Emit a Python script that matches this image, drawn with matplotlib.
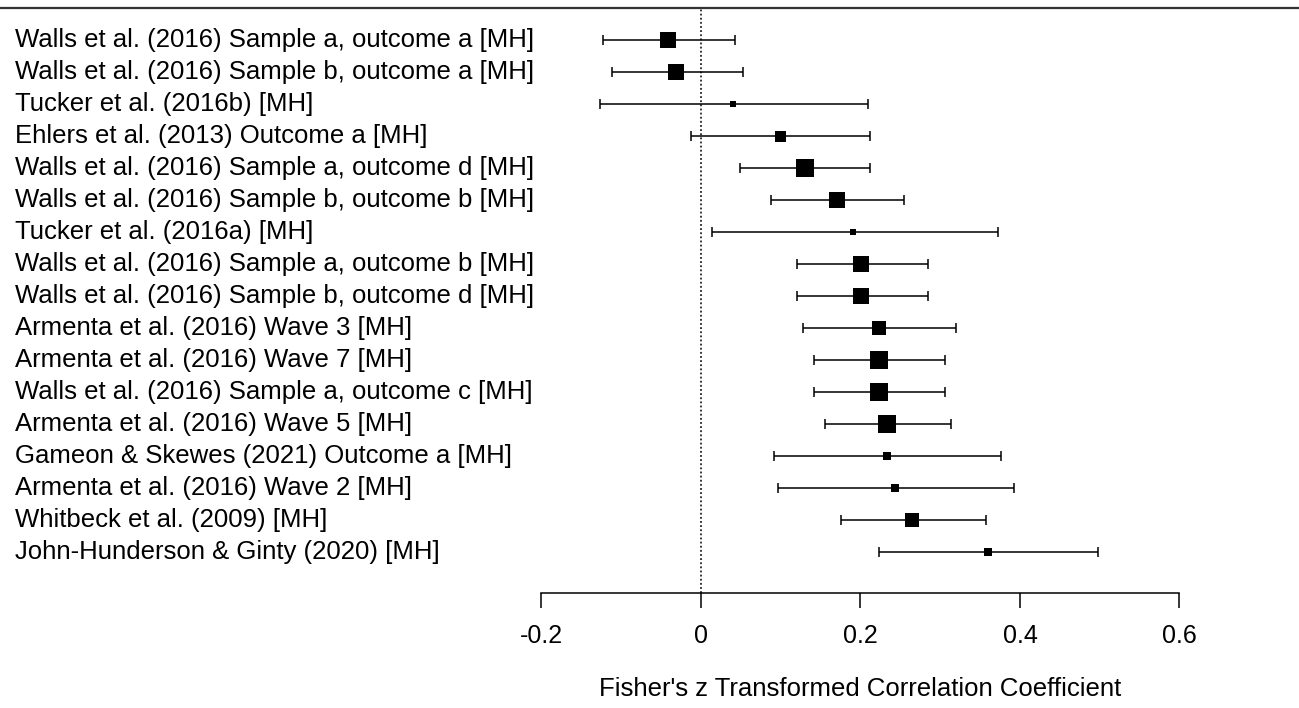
import matplotlib
matplotlib.use("Agg")
import matplotlib.pyplot as plt
import numpy as np

plt.rcParams['font.family'] = ['Liberation Sans', 'DejaVu Sans']

studies = [
    "Walls et al. (2016) Sample a, outcome a [MH]",
    "Walls et al. (2016) Sample b, outcome a [MH]",
    "Tucker et al. (2016b) [MH]",
    "Ehlers et al. (2013) Outcome a [MH]",
    "Walls et al. (2016) Sample a, outcome d [MH]",
    "Walls et al. (2016) Sample b, outcome b [MH]",
    "Tucker et al. (2016a) [MH]",
    "Walls et al. (2016) Sample a, outcome b [MH]",
    "Walls et al. (2016) Sample b, outcome d [MH]",
    "Armenta et al. (2016) Wave 3 [MH]",
    "Armenta et al. (2016) Wave 7 [MH]",
    "Walls et al. (2016) Sample a, outcome c [MH]",
    "Armenta et al. (2016) Wave 5 [MH]",
    "Gameon & Skewes (2021) Outcome a [MH]",
    "Armenta et al. (2016) Wave 2 [MH]",
    "Whitbeck et al. (2009) [MH]",
    "John-Hunderson & Ginty (2020) [MH]",
]
estimate = [-0.041, -0.031, 0.040, 0.099, 0.130, 0.170, 0.191, 0.201, 0.201,
            0.223, 0.223, 0.223, 0.233, 0.233, 0.243, 0.264, 0.360]
ci_lower = [-0.123, -0.112, -0.127, -0.013, 0.049, 0.088, 0.014, 0.120, 0.120,
            0.128, 0.142, 0.142, 0.155, 0.092, 0.097, 0.175, 0.223]
ci_upper = [0.043, 0.053, 0.209, 0.212, 0.212, 0.254, 0.372, 0.285, 0.285,
            0.320, 0.306, 0.306, 0.314, 0.376, 0.392, 0.357, 0.498]
weight = [16.0, 16.3, 6.3, 11.0, 17.7, 16.0, 6.3, 16.0, 16.0,
          14.3, 18.0, 18.0, 18.0, 8.3, 8.3, 14.7, 8.0]
xticks = [-0.2, 0, 0.2, 0.4, 0.6]
xtick_labels = ["-0.2", "0", "0.2", "0.4", "0.6"]
xlabel = "Fisher's z Transformed Correlation Coefficient"

W, H = 1299, 708
fig = plt.figure(figsize=(W / 100, H / 100), dpi=100)

# pixel geometry
x0_px, ppu = 701.0, 797.5
top_px, axis_px = 8.0, 593.0
row0_px, row_step = 40.0, 32.0

xl = ((0 - x0_px) / ppu, (W - x0_px) / ppu)
n = len(studies)
ypos = np.arange(n, 0, -1)  # top row = n
ytop = n + (row0_px - top_px) / row_step
ybot = 1 - (axis_px - (row0_px + (n - 1) * row_step)) / row_step

ax = fig.add_axes([0, (H - axis_px) / H, 1, (axis_px - top_px) / H])
ax.set_xlim(*xl)
ax.set_ylim(ybot, ytop)

for s in ['left', 'right']:
    ax.spines[s].set_visible(False)
ax.spines['top'].set_linewidth(1.6)
ax.spines['top'].set_color('#333333')
ax.spines['bottom'].set_bounds(-0.2, 0.6)
ax.spines['bottom'].set_linewidth(1.1)
ax.set_yticks([])
ax.set_xticks(xticks)
ax.set_xticklabels(xtick_labels, fontsize=18)
ax.tick_params(axis='x', length=11, width=1.1, pad=11, color='black')

ax.axvline(0, color='black', linestyle=(0, (1.2, 1.5)), linewidth=1.1, zorder=1)

est = np.array(estimate)
lo = np.array(ci_lower)
hi = np.array(ci_upper)
ax.errorbar(est, ypos, xerr=[est - lo, hi - est], fmt='none', ecolor='black',
            elinewidth=1.1, capsize=3.6, capthick=1.1, zorder=2)
for xe, yy, w in zip(est, ypos, weight):
    ax.plot([xe], [yy], marker='s', color='black', markersize=w * 0.72,
            markeredgewidth=0, linestyle='none', zorder=3)

for yy, lab in zip(ypos, studies):
    ax.text(15 / ppu + xl[0], yy, lab, ha='left', va='center', fontsize=18.5)

fig.text(860 / W, 1 - 689 / H, xlabel, ha='center', va='center', fontsize=18.5)

fig.savefig("out.png", dpi=100)
